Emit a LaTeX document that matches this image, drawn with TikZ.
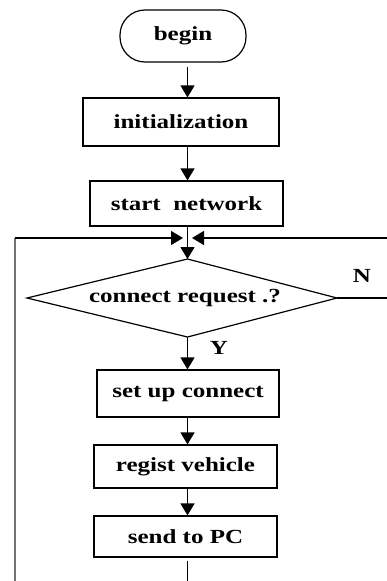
\documentclass[tikz,border=0pt]{standalone}
\usepackage{fontspec}
\setmainfont{Liberation Serif}
\usetikzlibrary{arrows.meta}
\newcommand\wtxt[1]{\scalebox{1.25}[1]{#1}}
\tikzset{
  box/.style={draw, line width=1.2pt, inner sep=0pt, font=\fontsize{20}{22}\selectfont\bfseries},
  arr/.style={line width=1.2pt, -{Triangle[width=14pt,length=12pt]}},
  ln/.style={line width=1.2pt},
  lbl/.style={font=\fontsize{20}{22}\selectfont\bfseries, inner sep=0pt}
}
\begin{document}
\begin{tikzpicture}[x=1pt,y=-1pt]
\useasboundingbox (0,0) rectangle (387,581);
\coordinate (sp) at (187.5,0);
\node[box, minimum width=126pt, minimum height=52pt, rounded corners=25pt] (begin) at (183,36) {\wtxt{begin}};
\node[box, minimum width=196pt, minimum height=48pt] (init) at (181,122) {\wtxt{initialization}};
\node[box, minimum width=193pt, minimum height=45pt] (start) at (186.5,203.5) {\wtxt{start\ \ network}};
\coordinate (merge) at (187.5,238);
% diamond
\coordinate (dt) at (187.5,259);
\coordinate (dr) at (337,298);
\coordinate (db) at (187.5,337);
\coordinate (dl) at (27,298);
\draw[ln] (dt) -- (dr) -- (db) -- (dl) -- cycle;
\node[lbl] (dtext) at (185,298) {\wtxt{connect request .?}};
\node[box, minimum width=182pt, minimum height=47pt] (setup) at (188,393.5) {\wtxt{set up connect}};
\node[box, minimum width=183pt, minimum height=43pt] (regist) at (185.5,466.5) {\wtxt{regist vehicle}};
\node[box, minimum width=183pt, minimum height=41pt] (send) at (185.5,536.5) {\wtxt{send to PC}};
% connectors
\draw[arr] (begin.south -| sp) ++(0,4) -- (init.north -| sp);
\draw[arr] (init.south -| sp) -- (start.north -| sp);
\draw[ln] (start.south -| sp) -- (merge);
\draw[arr] (merge) -- (dt);
\draw[arr] (db) -- (setup.north -| sp);
\draw[arr] (setup.south -| sp) -- (regist.north -| sp);
\draw[arr] (regist.south -| sp) -- (send.north -| sp);
\coordinate (bot) at (187.5,581);
\draw[ln] (send.south -| sp) ++(0,3) -- (bot);
% loops
\coordinate (lb) at (15,581);
\coordinate (lt) at (15,238);
\coordinate (ltip) at (183,238);
\draw[line width=1.8pt, black!55] (lb) -- (lt);
\draw[arr] (lt) -- (ltip);
\coordinate (rt) at (387,238);
\coordinate (rtip) at (192,238);
\draw[arr] (rt) -- (rtip);
\coordinate (ne) at (387,298);
\draw[ln] (dr) -- (ne);
\node[lbl] (N) at (362,276) {\wtxt{N}};
\node[lbl] (Y) at (219,348) {\wtxt{Y}};
\end{tikzpicture}
\end{document}
